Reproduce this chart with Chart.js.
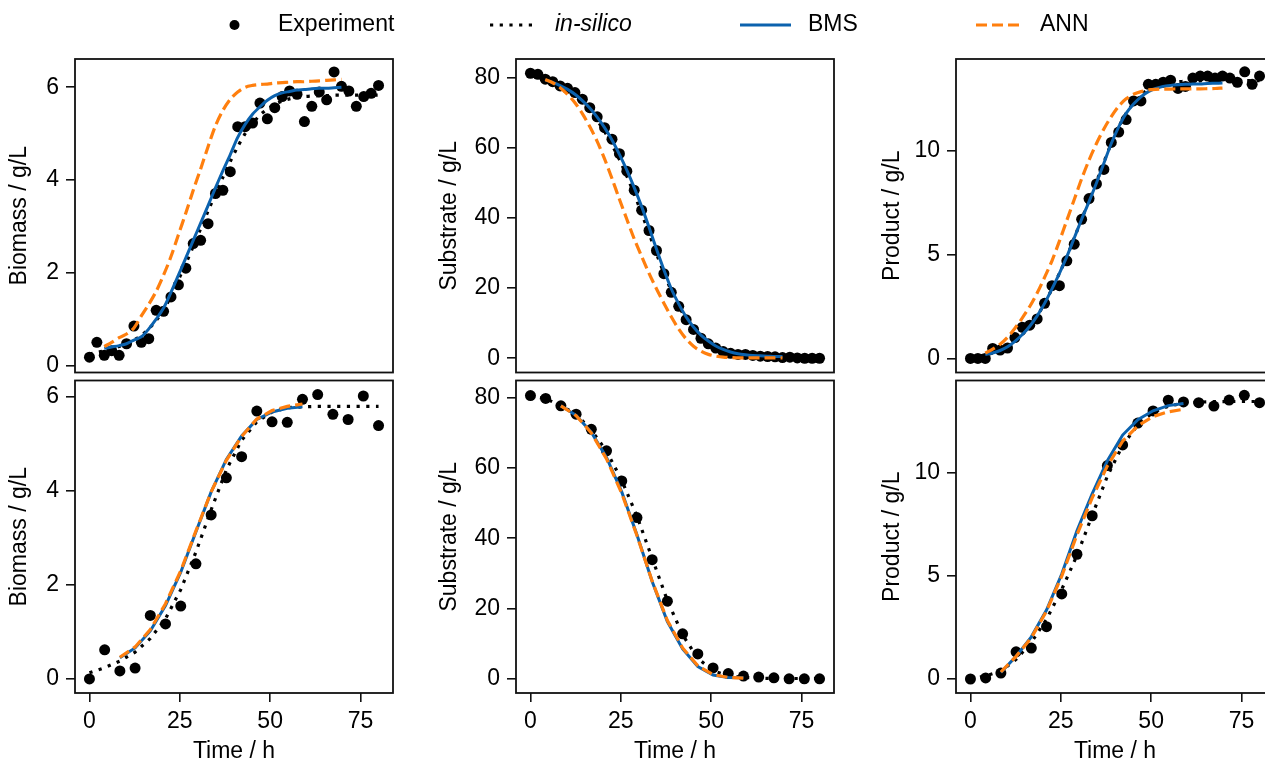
<!DOCTYPE html>
<html>
<head>
<meta charset="utf-8">
<script src="https://cdn.jsdelivr.net/npm/chart.js@4.4.1/dist/chart.umd.min.js"></script>
<style>
  html, body { margin: 0; padding: 0; background: #fff; overflow: hidden; }
  #wrap { position: relative; width: 1280px; height: 770px; }
  #wrap canvas { position: absolute; left: 0; top: 0; }
</style>
</head>
<body>
<div id="wrap">
  <canvas id="c0" width="1280" height="770"></canvas>
  <canvas id="c1" width="1280" height="770"></canvas>
  <canvas id="c2" width="1280" height="770"></canvas>
  <canvas id="c3" width="1280" height="770"></canvas>
  <canvas id="c4" width="1280" height="770"></canvas>
  <canvas id="c5" width="1280" height="770"></canvas>
</div>
<script>
"use strict";

// sampling times (h)
const tTop = [0, 2.05, 4.10, 6.15, 8.21, 10.26, 12.31, 14.36, 16.41, 18.46, 20.51, 22.56, 24.62, 26.67, 28.72, 30.77, 32.82, 34.87, 36.92, 38.97,
  41.03, 43.08, 45.13, 47.18, 49.23, 51.28, 53.33, 55.38, 57.44, 59.49, 61.54, 63.59, 65.64, 67.69, 69.74, 71.79, 73.85, 75.90, 77.95, 80.00];
const tBot = [0, 4.21, 8.42, 12.63, 16.84, 21.05, 25.26, 29.47, 33.68, 37.89, 42.11, 46.32, 50.53, 54.74, 58.95, 63.16, 67.37, 71.58, 75.79, 80.00];
const tTopModel = tTop.slice(2, 35);
const tBotModel = tBot.slice(2, 15);

const xTicks = [0, 25, 50, 75];
const biomassTicks = [0, 2, 4, 6];
const substrateTicks = [0, 20, 40, 60, 80];
const productTicks = [0, 5, 10];

// top row
const expTopBiomass = [0.18, 0.50, 0.22, 0.32, 0.22, 0.47, 0.85, 0.50, 0.58, 1.19, 1.17, 1.48, 1.74, 2.10, 2.63, 2.70, 3.06, 3.71, 3.78, 4.18,
  5.15, 5.15, 5.23, 5.66, 5.32, 5.56, 5.80, 5.92, 5.85, 5.26, 5.59, 5.90, 5.73, 6.33, 6.02, 5.92, 5.59, 5.80, 5.87, 6.04];
const insTopBiomass = [0.25, 0.28, 0.32, 0.36, 0.41, 0.47, 0.55, 0.65, 0.79, 0.97, 1.20, 1.50, 1.85, 2.20, 2.57, 2.95, 3.33, 3.70, 4.06, 4.40,
  4.72, 5.00, 5.22, 5.40, 5.53, 5.63, 5.70, 5.75, 5.78, 5.80, 5.81, 5.82, 5.82, 5.83, 5.83, 5.83, 5.83, 5.83, 5.83, 5.83];
const bmsTopBiomass = [0.37, 0.40, 0.43, 0.47, 0.55, 0.62, 0.79, 1.00, 1.24, 1.58, 1.95, 2.32, 2.70, 3.07, 3.45, 3.83, 4.20, 4.55, 4.92, 5.20,
  5.42, 5.58, 5.72, 5.82, 5.88, 5.91, 5.94, 5.95, 5.97, 5.98, 5.98, 5.99, 6.00];
const annTopBiomass = [0.41, 0.50, 0.60, 0.68, 0.81, 1.07, 1.32, 1.60, 1.95, 2.35, 2.82, 3.29, 3.78, 4.24, 4.72, 5.17, 5.50, 5.74, 5.90, 6.00,
  6.04, 6.06, 6.07, 6.09, 6.10, 6.11, 6.12, 6.12, 6.13, 6.14, 6.15, 6.16, 6.17];

const expTopSubstrate = [81.2, 80.9, 79.5, 78.8, 77.6, 76.9, 75.7, 73.8, 71.4, 68.8, 65.7, 62.4, 58.3, 53.3, 47.9, 42.2, 36.4, 30.7, 24.1, 18.8,
  14.8, 11.0, 8.2, 5.7, 4.1, 2.9, 1.9, 1.4, 1.1, 1.1, 0.8, 0.6, 0.5, 0.4, 0.2, 0.3, 0.1, 0.0, 0.0, 0.0];
const insTopSubstrate = [81.0, 80.6, 79.9, 79.0, 77.9, 76.6, 75.0, 73.0, 70.6, 67.8, 64.6, 60.8, 56.6, 51.9, 46.8, 41.3, 35.6, 29.8, 24.3, 19.3,
  14.9, 11.2, 8.2, 5.9, 4.2, 3.0, 2.1, 1.5, 1.1, 0.8, 0.6, 0.5, 0.4, 0.3, 0.3, 0.2, 0.2, 0.2, 0.2, 0.2];
const bmsTopSubstrate = [79.3, 78.6, 77.7, 76.6, 75.2, 73.4, 71.3, 68.7, 65.7, 62.2, 58.1, 53.6, 48.6, 43.2, 37.3, 31.1, 25.2, 19.8, 15.5, 11.8,
  8.9, 6.6, 4.9, 3.5, 2.5, 1.8, 1.3, 1.0, 0.8, 0.7, 0.6, 0.5, 0.5];
const annTopSubstrate = [79.4, 78.5, 77.1, 75.2, 72.8, 69.7, 66.0, 61.8, 56.8, 51.2, 45.3, 39.6, 34.0, 29.0, 24.2, 19.8, 15.7, 11.8, 8.3, 5.5,
  3.4, 2.0, 1.1, 0.6, 0.3, 0.2, 0.1, 0.1, 0.1, 0.1, 0.1, 0.1, 0.1];

const expTopProduct = [0.0, 0.0, 0.0, 0.48, 0.40, 0.50, 1.00, 1.50, 1.60, 1.90, 2.65, 3.50, 3.50, 4.70, 5.50, 6.70, 7.70, 8.40, 9.10, 10.40,
  10.90, 11.50, 12.40, 12.40, 13.20, 13.20, 13.30, 13.40, 13.00, 13.10, 13.50, 13.60, 13.60, 13.50, 13.60, 13.50, 13.30, 13.80, 13.20, 13.60];
const insTopProduct = [0.05, 0.10, 0.17, 0.26, 0.38, 0.56, 0.82, 1.15, 1.55, 2.05, 2.65, 3.35, 4.10, 4.90, 5.80, 6.70, 7.60, 8.50, 9.45, 10.35,
  11.15, 11.80, 12.30, 12.70, 12.95, 13.12, 13.22, 13.28, 13.32, 13.35, 13.36, 13.37, 13.38, 13.38, 13.38, 13.38, 13.38, 13.38, 13.38, 13.38];
const bmsTopProduct = [0.18, 0.26, 0.38, 0.56, 0.82, 1.15, 1.55, 2.05, 2.65, 3.35, 4.10, 4.90, 5.80, 6.70, 7.55, 8.45, 9.40, 10.35, 11.15, 11.80,
  12.25, 12.60, 12.85, 13.00, 13.10, 13.15, 13.18, 13.20, 13.21, 13.22, 13.24, 13.25, 13.26];
const annTopProduct = [0.25, 0.45, 0.68, 1.02, 1.45, 1.95, 2.50, 3.15, 3.90, 4.70, 5.65, 6.65, 7.65, 8.65, 9.55, 10.35, 11.05, 11.65, 12.15, 12.50,
  12.72, 12.85, 12.93, 12.96, 12.97, 12.97, 12.98, 12.98, 12.98, 12.98, 12.99, 13.00, 13.02];

// bottom row
const expBotBiomass = [0.0, 0.62, 0.17, 0.23, 1.35, 1.17, 1.55, 2.45, 3.49, 4.28, 4.73, 5.70, 5.47, 5.46, 5.95, 6.05, 5.63, 5.52, 6.02, 5.39];
const insBotBiomass = [0.13, 0.24, 0.38, 0.57, 0.86, 1.28, 1.90, 2.70, 3.60, 4.45, 5.08, 5.47, 5.68, 5.77, 5.79, 5.80, 5.80, 5.80, 5.80, 5.80];
const bmsBotBiomass = [0.45, 0.66, 1.02, 1.56, 2.27, 3.13, 3.98, 4.67, 5.17, 5.52, 5.68, 5.76, 5.79];
const annBotBiomass = [0.46, 0.68, 1.05, 1.60, 2.30, 3.15, 3.98, 4.65, 5.16, 5.53, 5.71, 5.80, 5.85];

const expBotSubstrate = [80.6, 79.8, 77.7, 75.3, 71.0, 64.9, 56.3, 45.9, 33.9, 22.1, 12.8, 7.1, 3.1, 1.5, 0.8, 0.5, 0.3, 0.0, 0.0, 0.0];
const insBotSubstrate = [80.6, 79.7, 77.8, 75.3, 70.8, 64.8, 56.5, 46.3, 34.3, 22.3, 12.5, 5.8, 2.3, 0.9, 0.4, 0.2, 0.1, 0.1, 0.1, 0.1];
const bmsBotSubstrate = [77.7, 75.0, 70.2, 63.0, 53.2, 41.0, 27.7, 16.3, 8.5, 3.5, 1.1, 0.4, 0.3];
const annBotSubstrate = [77.7, 74.9, 70.0, 62.6, 52.8, 40.8, 27.8, 16.6, 8.8, 3.7, 1.2, 0.4, 0.2];

const expBotProduct = [0.0, 0.05, 0.29, 1.32, 1.50, 2.54, 4.13, 6.06, 7.93, 10.37, 11.37, 12.43, 13.02, 13.54, 13.46, 13.42, 13.26, 13.55, 13.78, 13.42];
const insBotProduct = [0.00, 0.15, 0.38, 0.95, 1.78, 2.90, 4.35, 6.00, 7.95, 9.85, 11.35, 12.35, 12.95, 13.25, 13.40, 13.45, 13.47, 13.48, 13.48, 13.48];
const bmsBotProduct = [0.32, 1.10, 2.05, 3.35, 5.10, 7.20, 9.00, 10.60, 11.85, 12.60, 13.03, 13.28, 13.38];
const annBotProduct = [0.34, 1.10, 2.00, 3.30, 5.00, 7.00, 8.80, 10.35, 11.55, 12.30, 12.75, 12.98, 13.10];

const FONT = "'Liberation Sans', Arial, sans-serif";
const FS = 23;
const BLUE = '#0b62ae';
const ORANGE = '#ff7f0e';
const W = 1280, H = 770, XH = 72.8;
const colLeft = [75, 516, 956];
const colYW = [68.8, 79.8, 76.8];
const boxW = 318;
const rowTop = [59, 380.5];
const rowBottom = [372.5, 693];

function pts(xs, ys) {
  return ys.map((y, i) => ({ x: xs[i], y: y }));
}

const boxPlugin = {
  id: 'box',
  afterDatasetsDraw(chart) {
    const a = chart.chartArea, c = chart.ctx;
    c.save();
    c.strokeStyle = '#111';
    c.lineWidth = 1.8;
    c.strokeRect(a.left, a.top, a.right - a.left, a.bottom - a.top);
    c.restore();
  }
};

const legendPlugin = {
  id: 'figLegend',
  afterDraw(chart) {
    const c = chart.ctx, y = 25;
    c.save();
    c.fillStyle = '#000';
    c.beginPath();
    c.arc(234.5, y, 5, 0, Math.PI * 2);
    c.fill();
    c.lineCap = 'butt';
    c.strokeStyle = '#000';
    c.lineWidth = 3.2;
    c.setLineDash([3.2, 6.5]);
    c.beginPath(); c.moveTo(490, y); c.lineTo(536, y); c.stroke();
    c.setLineDash([]);
    c.strokeStyle = BLUE;
    c.lineWidth = 3;
    c.beginPath(); c.moveTo(740, y); c.lineTo(791, y); c.stroke();
    c.strokeStyle = ORANGE;
    c.lineWidth = 3.2;
    c.setLineDash([11, 5]);
    c.beginPath(); c.moveTo(976, y); c.lineTo(1023, y); c.stroke();
    c.setLineDash([]);
    c.textBaseline = 'middle';
    c.font = FS + 'px ' + FONT;
    c.fillText('Experiment', 278, y);
    c.fillText('BMS', 808, y);
    c.fillText('ANN', 1040, y);
    c.font = 'italic ' + FS + 'px ' + FONT;
    c.fillText('in-silico', 555, y);
    c.restore();
  }
};

function makePanel(p) {
  const bottomRow = p.row === 1;
  const left = colLeft[p.col], yw = colYW[p.col];
  const smooth = bottomRow ? 0 : 0.3;
  const tickFont = { size: FS, family: FONT };
  const plugins = [boxPlugin];
  if (p.legend) plugins.push(legendPlugin);
  return new Chart(document.getElementById(p.id), {
    type: 'line',
    data: {
      datasets: [
        { label: 'Experiment', data: pts(p.t, p.exp), showLine: false, pointRadius: 5.5, pointBackgroundColor: '#000', pointBorderWidth: 0, order: 4 },
        { label: 'in-silico', data: pts(p.t, p.ins), borderColor: '#000', borderWidth: 3.2, borderDash: [3.2, 6.5], borderCapStyle: 'butt', pointRadius: 0, tension: smooth, order: 3 },
        { label: 'BMS', data: pts(p.tm, p.bms), borderColor: BLUE, borderWidth: 3, pointRadius: 0, tension: smooth, order: 2 },
        { label: 'ANN', data: pts(p.tm, p.ann), borderColor: ORANGE, borderWidth: 3.2, borderDash: [11, 5], borderCapStyle: 'butt', pointRadius: 0, tension: smooth, order: 1 }
      ]
    },
    options: {
      responsive: false,
      animation: false,
      layout: {
        padding: {
          left: left - yw,
          right: W - left - boxW,
          top: rowTop[p.row],
          bottom: H - rowBottom[p.row] - (bottomRow ? XH : 0)
        }
      },
      plugins: { legend: { display: false }, tooltip: { enabled: false } },
      scales: {
        x: {
          type: 'linear', min: -4, max: 84,
          display: bottomRow,
          afterFit: s => { if (bottomRow) s.height = XH; },
          afterBuildTicks: s => { s.ticks = xTicks.map(v => ({ value: v })); },
          grid: { drawOnChartArea: false, drawTicks: true, tickLength: 9, color: '#111', lineWidth: 1.6 },
          border: { display: false },
          ticks: { color: '#000', font: tickFont, padding: 5.7, maxRotation: 0, callback: v => String(v) },
          title: { display: true, text: 'Time / h', color: '#000', font: tickFont, padding: 0 }
        },
        y: {
          type: 'linear', min: p.yr[0], max: p.yr[1],
          afterFit: s => { s.width = yw; },
          afterBuildTicks: s => { s.ticks = p.yt.map(v => ({ value: v })); },
          grid: { drawOnChartArea: false, drawTicks: true, tickLength: 9, color: '#111', lineWidth: 1.6 },
          border: { display: false },
          ticks: { color: '#000', font: tickFont, padding: 7, callback: v => String(v) },
          title: { display: true, text: p.label, color: '#000', font: tickFont, padding: 0 }
        }
      }
    },
    plugins: plugins
  });
}

const panels = [
  { id: 'c0', row: 0, col: 0, legend: true, t: tTop, tm: tTopModel, exp: expTopBiomass, ins: insTopBiomass, bms: bmsTopBiomass, ann: annTopBiomass, yr: [-0.15, 6.61], yt: biomassTicks, label: 'Biomass / g/L' },
  { id: 'c1', row: 0, col: 1, t: tTop, tm: tTopModel, exp: expTopSubstrate, ins: insTopSubstrate, bms: bmsTopSubstrate, ann: annTopSubstrate, yr: [-4.06, 85.26], yt: substrateTicks, label: 'Substrate / g/L' },
  { id: 'c2', row: 0, col: 2, t: tTop, tm: tTopModel, exp: expTopProduct, ins: insTopProduct, bms: bmsTopProduct, ann: annTopProduct, yr: [-0.68, 14.42], yt: productTicks, label: 'Product / g/L' },
  { id: 'c3', row: 1, col: 0, t: tBot, tm: tBotModel, exp: expBotBiomass, ins: insBotBiomass, bms: bmsBotBiomass, ann: annBotBiomass, yr: [-0.30, 6.35], yt: biomassTicks, label: 'Biomass / g/L' },
  { id: 'c4', row: 1, col: 1, t: tBot, tm: tBotModel, exp: expBotSubstrate, ins: insBotSubstrate, bms: bmsBotSubstrate, ann: annBotSubstrate, yr: [-4.03, 84.9], yt: substrateTicks, label: 'Substrate / g/L' },
  { id: 'c5', row: 1, col: 2, t: tBot, tm: tBotModel, exp: expBotProduct, ins: insBotProduct, bms: bmsBotProduct, ann: annBotProduct, yr: [-0.68, 14.5], yt: productTicks, label: 'Product / g/L' }
];

panels.forEach(makePanel);
</script>
</body>
</html>
